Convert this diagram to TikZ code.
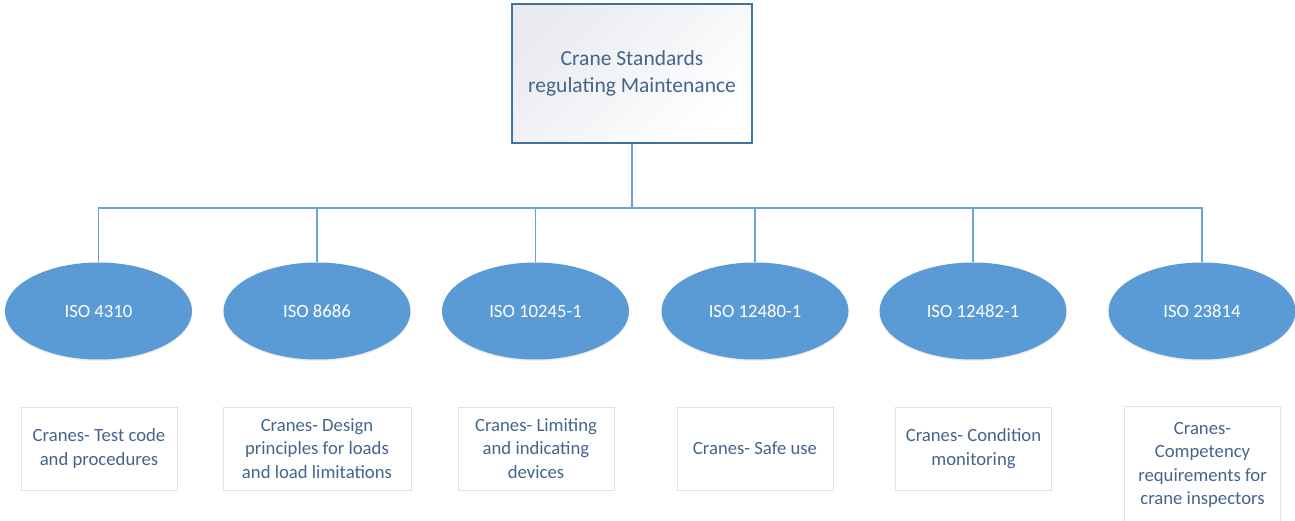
\documentclass[tikz,border=0pt]{standalone}
\usepackage{fontspec}
\setmainfont{Carlito}
\usetikzlibrary{shapes.geometric, shadows}

\definecolor{isoblue}{HTML}{5B9BD5}
\definecolor{linkblue}{HTML}{6AA3D9}
\definecolor{rootedge}{HTML}{41719C}
\definecolor{rootshade}{HTML}{E9EBF0}
\definecolor{labelblue}{HTML}{44648C}
\definecolor{boxedge}{HTML}{DDE2EA}

\begin{document}
\begin{tikzpicture}[x=1pt, y=-1pt,
  rootbox/.style={draw=rootedge, line width=1.5pt, top color=rootshade,
    bottom color=white, shading angle=45, minimum width=240pt,
    minimum height=139pt, inner sep=0pt, align=center, text=labelblue,
    font=\fontsize{21.5}{27}\selectfont},
  isonode/.style={ellipse, fill=isoblue, minimum width=187pt,
    minimum height=97pt, inner sep=0pt, text=white,
    font=\fontsize{18.7}{23.5}\selectfont,
    drop shadow={shadow xshift=0pt, shadow yshift=-1.5pt, opacity=0.15}},
  descbox/.style={draw=boxedge, line width=1pt, minimum width=156pt,
    minimum height=83pt, inner sep=0pt, align=center, text=labelblue,
    font=\fontsize{18.7}{23.5}\selectfont},
  link/.style={draw=linkblue, line width=1.7pt}]

  \useasboundingbox (0,0) rectangle (1295,521);

  % ---- top of the tree ----
  \node[rootbox] (root) at (632,73.5) {Crane Standards\\regulating Maintenance};

  % ---- standards ----
  \node[isonode] (iso1) at (98.5,311) {ISO 4310};
  \node[isonode] (iso2) at (317,311) {ISO 8686};
  \node[isonode] (iso3) at (535.5,311) {ISO 10245-1};
  \node[isonode] (iso4) at (755,311) {ISO 12480-1};
  \node[isonode] (iso5) at (973,311) {ISO 12482-1};
  \node[isonode] (iso6) at (1202,311) {ISO 23814};

  % ---- titles of the standards ----
  \node[descbox] (desc1) at (99,448.5) {Cranes- Test code\\and procedures};
  \node[descbox, minimum width=188pt] (desc2) at (317,448.5)
    {Cranes- Design\\principles for loads\\and load limitations};
  \node[descbox] (desc3) at (536,448.5) {Cranes- Limiting\\and indicating\\devices};
  \node[descbox] (desc4) at (755,448.5) {Cranes- Safe use};
  \node[descbox] (desc5) at (973.5,448.5) {Cranes- Condition\\monitoring};
  \node[descbox, minimum height=118pt] (desc6) at (1202.5,465)
    {Cranes-\\Competency\\requirements for\\crane inspectors};

  % ---- connectors ----
  \coordinate (busy) at (0,208);
  \coordinate (bus) at (root.south |- busy);
  \draw[link] (root.south) -- (bus);
  \draw[link] (bus) -| (iso1.north);
  \draw[link] (bus) -| (iso2.north);
  \draw[link] (bus) -| (iso3.north);
  \draw[link] (bus) -| (iso4.north);
  \draw[link] (bus) -| (iso5.north);
  \draw[link] (bus) -| (iso6.north);
\end{tikzpicture}
\end{document}
